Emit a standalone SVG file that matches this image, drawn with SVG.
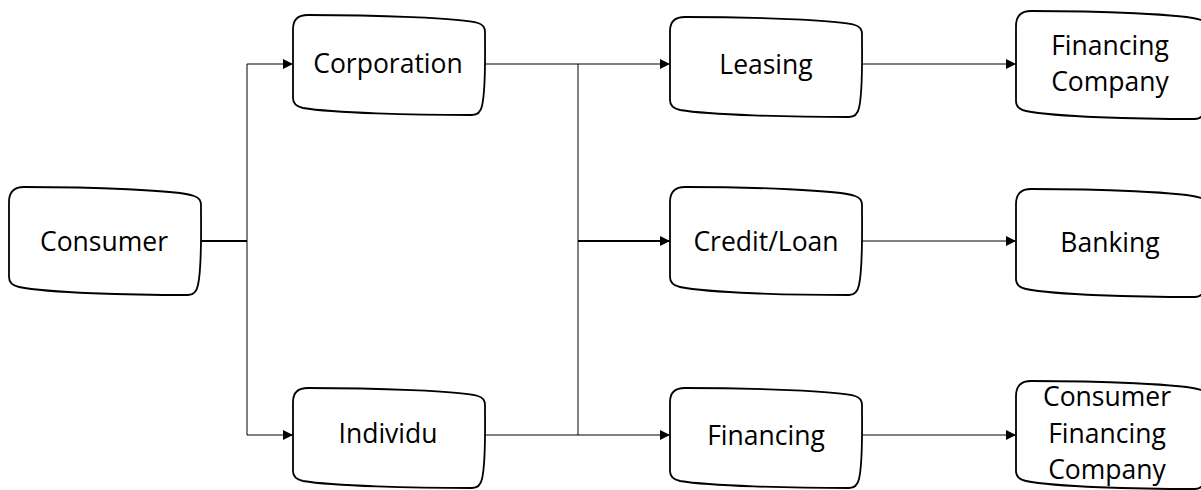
<svg xmlns="http://www.w3.org/2000/svg" width="1201" height="490" viewBox="0 0 1201 490">
<style>
.box{fill:#fff;stroke:#000;stroke-width:1.8}
.t{font-family:"Open Sans","Liberation Sans",sans-serif;font-size:26.5px;fill:#000;text-anchor:middle;dominant-baseline:central}
.c{fill:none;stroke:#000;stroke-width:1}
.c2{fill:none;stroke:#000;stroke-width:2}
</style>
<defs>
<marker id="ah" viewBox="0 0 10 10" refX="10" refY="5" markerWidth="10" markerHeight="10" markerUnits="userSpaceOnUse" orient="auto"><path d="M0,0 L10,5 L0,10 Z" fill="#000"/></marker>
<path id="shp" d="M15,0 C80,0 170,3 185,9 Q192,11 192,18 C192,50 193,80 189,98 Q187,108 179,108 C120,108 40,106 10,100 Q0,98 0,90 L0,15 Q0,0 15,0 Z"/>
<path id="shpS" d="M15,0 C80,0 170,3 185,8 Q192,10 192,17 C192,46 193,74 189,91 Q187,100 179,100 C120,100 40,98 10,93 Q0,91 0,83 L0,14 Q0,0 15,0 Z"/>
</defs>
<g id="connectors">
<path class="c2" d="M201,241 H247"/>
<path class="c" d="M247,64 V435"/>
<path class="c" d="M247,64 H293" marker-end="url(#ah)"/>
<path class="c" d="M247,435 H293" marker-end="url(#ah)"/>
<path class="c" d="M485,64 H578 V435"/>
<path class="c" d="M485,435 H578"/>
<path class="c" d="M578,64 H670" marker-end="url(#ah)"/>
<path class="c2" d="M578,241 H670" marker-end="url(#ah)"/>
<path class="c" d="M578,435 H670" marker-end="url(#ah)"/>
<path class="c" d="M862,64 H1016" marker-end="url(#ah)"/>
<path class="c" d="M862,241 H1016" marker-end="url(#ah)"/>
<path class="c" d="M862,435 H1016" marker-end="url(#ah)"/>
</g>
<g id="consumer"><use href="#shp" class="box" transform="translate(9,187)"/><text class="t" x="104" y="241">Consumer</text></g>
<g id="corporation"><use href="#shpS" class="box" transform="translate(293,15)"/><text class="t" x="388" y="63">Corporation</text></g>
<g id="individu"><use href="#shpS" class="box" transform="translate(293,388)"/><text class="t" x="388" y="433">Individu</text></g>
<g id="leasing"><use href="#shpS" class="box" transform="translate(670,17)"/><text class="t" x="766" y="64">Leasing</text></g>
<g id="credit"><use href="#shp" class="box" transform="translate(670,187)"/><text class="t" x="766" y="241">Credit/Loan</text></g>
<g id="financing"><use href="#shpS" class="box" transform="translate(670,388)"/><text class="t" x="766" y="435">Financing</text></g>
<g id="financing-company"><use href="#shp" class="box" transform="translate(1016,11)"/><text class="t" x="1110" y="45">Financing</text><text class="t" x="1110" y="81">Company</text></g>
<g id="banking"><use href="#shp" class="box" transform="translate(1016,189)"/><text class="t" x="1110" y="242">Banking</text></g>
<g id="consumer-financing-company"><use href="#shp" class="box" transform="translate(1016,381)"/><text class="t" x="1107" y="396">Consumer</text><text class="t" x="1107" y="433">Financing</text><text class="t" x="1107" y="469">Company</text></g>
</svg>
